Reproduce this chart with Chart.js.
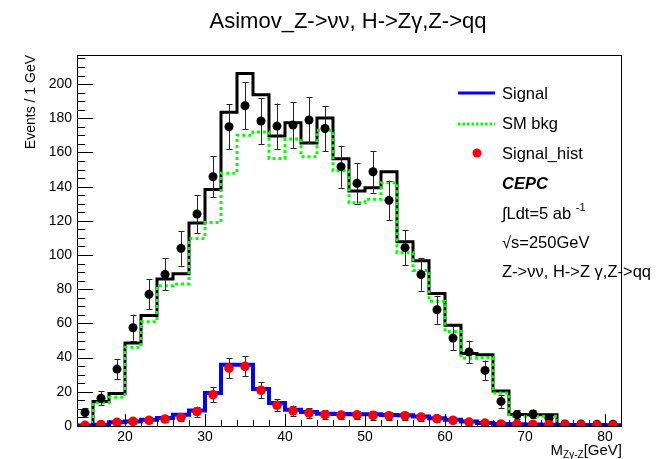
<!DOCTYPE html>
<html>
<head>
<meta charset="utf-8">
<script src="https://cdn.jsdelivr.net/npm/chart.js@4/dist/chart.umd.min.js"></script>
<style>
  body { margin: 0; background: #fff; }
  #wrap { width: 658px; height: 459px; }
</style>
</head>
<body>
<div id="wrap"><canvas id="plot" width="658" height="459"></canvas></div>
<script>
const FONT = '"Liberation Sans", Arial, Helvetica, sans-serif';
const BIN_WIDTH = 2;

// bin centres, M(Zγ-Z) in GeV
const massBins = [15, 17, 19, 21, 23, 25, 27, 29, 31, 33, 35, 37, 39, 41, 43, 45, 47,
  49, 51, 53, 55, 57, 59, 61, 63, 65, 67, 69, 71, 73, 75, 77, 79, 81];

// stacked histograms (events per bin)
const signalHist = [0.3, 0.8, 2.2, 2.7, 3.7, 4.7, 6.6, 9.1, 19.3, 35.8, 35.8, 21.6, 13.4, 9.5, 8.2, 7.2, 7.0,
  6.9, 6.8, 6.4, 6.3, 5.6, 4.6, 3.7, 2.7, 1.7, 1.1, 1.0, 0.9, 0.8, 0.6, 0.5, 0.4, 0.3];
const bkgHist = [0, 13.6, 16.8, 46, 61, 82, 83, 109.7, 119, 147.8, 170, 172, 156.5, 167.8, 157.5, 173, 149.3,
  130.6, 132.6, 142.3, 101.4, 91, 73, 55.3, 39.7, 40, 19.3, 5.7, 5.7, 5.7, 0.3, 0.3, 0.3, 0.3];
const totalHist = [0.3, 14.4, 19, 48.6, 64.6, 86, 89, 118.7, 138.3, 183.5, 206.2, 193.8, 169.6, 177.3, 165.6, 180.2, 156.3,
  137.5, 139.4, 148.7, 107.7, 96.6, 77.5, 59, 42.4, 41.7, 20.4, 6.7, 6.6, 6.6, 0.9, 0.8, 0.7, 0.6];

// asimov pseudo-data and signal-only points with their errors
const asimovData = [7.8, 16.2, 33.3, 57.5, 77, 88.7, 103.9, 124, 145.8, 175, 187.3, 178.4, 175.4, 176, 179, 174, 151.7,
  142, 148.7, 132, 104.3, 88.6, 68, 51.4, 43.3, 32.5, 14.4, 6.6, 7, 4.5, 1.2, 1.1, 1.0, 1.0];
const asimovErr = [2.8, 4.0, 5.8, 7.6, 8.8, 9.4, 10.2, 11.1, 12.1, 13.2, 13.7, 13.4, 13.2, 13.3, 13.4, 13.2, 12.3,
  11.9, 12.2, 11.5, 10.2, 9.4, 8.2, 7.2, 6.6, 5.7, 3.8, 2.6, 2.6, 2.1, 1.1, 1.0, 1.0, 1.0];
const signalPoints = [0.4, 0.8, 2.1, 2.7, 3.3, 4.1, 5.0, 8.4, 18.3, 33.9, 34.9, 20.9, 12.1, 8.9, 7.6, 6.6, 6.4,
  6.5, 6.2, 6.0, 6.0, 5.2, 4.3, 3.3, 2.3, 1.7, 1.2, 1.1, 1.0, 0.9, 0.7, 0.6, 0.5, 0.4];
const signalErr = [0.6, 0.9, 1.4, 1.6, 1.8, 2.0, 2.2, 2.9, 4.3, 5.8, 5.9, 4.6, 3.5, 3.0, 2.8, 2.6, 2.5,
  2.5, 2.5, 2.4, 2.4, 2.3, 2.1, 1.8, 1.5, 1.3, 1.1, 1.0, 1.0, 0.9, 0.8, 0.8, 0.7, 0.6];

const xTicks = [20, 30, 40, 50, 60, 70, 80];
const yTicks = [0, 20, 40, 60, 80, 100, 120, 140, 160, 180, 200];
const X_MIN = 14, X_MAX = 82, Y_MAX = 217;

// step outline: one point per lower bin edge plus the closing upper edge
function histPoints(values) {
  const pts = massBins.map((c, i) => ({ x: c - BIN_WIDTH / 2, y: values[i] }));
  pts.push({ x: massBins[massBins.length - 1] + BIN_WIDTH / 2, y: values[values.length - 1] });
  return pts;
}

function markerPoints(values) {
  return massBins.map((c, i) => ({ x: c, y: values[i] }));
}

function histSet(values, color, width, dash, order) {
  return {
    type: 'line',
    data: histPoints(values),
    borderColor: color,
    borderWidth: width,
    borderDash: dash,
    borderCapStyle: 'butt',
    borderJoinStyle: 'miter',
    stepped: 'before',
    pointRadius: 0,
    fill: false,
    order: order,
  };
}

function pointSet(values, errors, color, radius, order) {
  return {
    type: 'scatter',
    data: markerPoints(values),
    errors: errors,
    backgroundColor: color,
    borderColor: color,
    borderWidth: 0,
    pointRadius: radius,
    pointHoverRadius: radius,
    order: order,
  };
}

// ROOT-style frame with inward ticks
const framePlugin = {
  id: 'frame',
  beforeDatasetDraw(chart, args) {
    const ds = chart.data.datasets[args.index];
    if (!ds.errors) return;
    const { ctx } = chart;
    const xs = chart.scales.x, ys = chart.scales.y;
    ctx.save();
    ctx.strokeStyle = '#222';
    ctx.lineWidth = 1;
    ctx.beginPath();
    ds.data.forEach((p, i) => {
      const px = Math.round(xs.getPixelForValue(p.x)) + 0.5;
      const lo = ys.getPixelForValue(Math.max(0, p.y - ds.errors[i]));
      const hi = ys.getPixelForValue(p.y + ds.errors[i]);
      ctx.moveTo(px, lo); ctx.lineTo(px, hi);
      ctx.moveTo(px - 3, Math.round(lo) + 0.5); ctx.lineTo(px + 3, Math.round(lo) + 0.5);
      ctx.moveTo(px - 3, Math.round(hi) + 0.5); ctx.lineTo(px + 3, Math.round(hi) + 0.5);
    });
    ctx.stroke();
    ctx.restore();
  },
  afterDatasetsDraw(chart) {
    const { ctx, chartArea: a } = chart;
    const xs = chart.scales.x, ys = chart.scales.y;
    ctx.save();
    ctx.strokeStyle = '#000';
    ctx.lineWidth = 1;
    ctx.beginPath();
    for (let v = 0; v <= Y_MAX; v += 5) {
      const py = Math.round(ys.getPixelForValue(v)) + 0.5;
      const len = v % 20 === 0 ? 16 : 8;
      ctx.moveTo(a.left, py); ctx.lineTo(a.left + len, py);
    }
    for (let v = 16; v < X_MAX; v += 2) {
      const px = Math.round(xs.getPixelForValue(v)) + 0.5;
      const len = v % 10 === 0 ? 12 : 6;
      ctx.moveTo(px, a.bottom); ctx.lineTo(px, a.bottom - len);
    }
    ctx.stroke();
    ctx.strokeRect(Math.round(a.left) + 0.5, Math.round(a.top) + 0.5,
      Math.round(a.right - a.left), Math.round(a.bottom - a.top));
    ctx.restore();
  },
  afterDraw(chart) {
    const { ctx, chartArea: a } = chart;
    ctx.save();
    ctx.fillStyle = '#000';

    // title
    ctx.font = '22px ' + FONT;
    ctx.textAlign = 'center';
    ctx.textBaseline = 'alphabetic';
    ctx.fillText('Asimov_Z->νν, H->Zγ,Z->qq', 348, 28);

    // y axis title
    ctx.save();
    ctx.translate(35, a.top);
    ctx.rotate(-Math.PI / 2);
    ctx.font = '14px ' + FONT;
    ctx.textAlign = 'right';
    ctx.fillText('Events / 1 GeV', 0, 0);
    ctx.restore();

    // x axis title with subscript, right aligned to the frame
    ctx.textAlign = 'left';
    ctx.font = '15px ' + FONT;
    const wM = ctx.measureText('M').width;
    const wG = ctx.measureText('[GeV]').width;
    ctx.font = '10px ' + FONT;
    const wS = ctx.measureText('Zγ-Z').width;
    let x0 = a.right + 1 - wM - wS - wG;
    ctx.font = '15px ' + FONT;
    ctx.fillText('M', x0, 455);
    ctx.font = '10px ' + FONT;
    ctx.fillText('Zγ-Z', x0 + wM, 458);
    ctx.font = '15px ' + FONT;
    ctx.fillText('[GeV]', x0 + wM + wS, 455);

    // legend
    const tx = 502;
    ctx.textBaseline = 'middle';
    ctx.font = '16.5px ' + FONT;
    ctx.lineWidth = 3;
    ctx.strokeStyle = '#0000ff';
    ctx.beginPath(); ctx.moveTo(458, 93); ctx.lineTo(495, 93); ctx.stroke();
    ctx.fillText('Signal', tx, 94);
    ctx.strokeStyle = '#00ff00';
    ctx.setLineDash([2.5, 2]);
    ctx.beginPath(); ctx.moveTo(458, 124); ctx.lineTo(495, 124); ctx.stroke();
    ctx.setLineDash([]);
    ctx.fillText('SM bkg', tx, 124);
    ctx.fillStyle = '#ff0000';
    ctx.beginPath(); ctx.arc(477, 153, 4.5, 0, Math.PI * 2); ctx.fill();
    ctx.fillStyle = '#000';
    ctx.fillText('Signal_hist', tx, 154);
    ctx.font = 'italic bold 16.5px ' + FONT;
    ctx.fillText('CEPC', tx, 184);
    ctx.font = '16.5px ' + FONT;
    ctx.fillText('∫Ldt=5 ab', tx, 214);
    const wL = ctx.measureText('∫Ldt=5 ab ').width;
    ctx.font = '11px ' + FONT;
    ctx.fillText('-1', tx + wL, 208);
    ctx.font = '16.5px ' + FONT;
    ctx.fillText('√s=250GeV', tx, 243);
    ctx.fillText('Z->νν, H->Z γ,Z->qq', tx, 272);
    ctx.restore();
  },
};

new Chart(document.getElementById('plot'), {
  data: {
    datasets: [
      histSet(totalHist, '#000000', 3, [], 6),
      histSet(bkgHist, '#00ff00', 3, [3, 3], 5),
      histSet(signalHist, '#0000ff', 4, [], 4),
      pointSet(asimovData, asimovErr, '#000000', 4.5, 3),
      pointSet(signalPoints, signalErr, '#ff0000', 4.8, 2),
    ],
  },
  options: {
    responsive: false,
    animation: false,
    events: [],
    layout: { padding: { top: 55, right: 37, left: 0, bottom: 0 } },
    plugins: { legend: { display: false }, title: { display: false }, tooltip: { enabled: false } },
    scales: {
      x: {
        type: 'linear',
        min: X_MIN,
        max: X_MAX,
        afterFit: s => { s.height = 33; },
        afterBuildTicks: s => { s.ticks = xTicks.map(v => ({ value: v })); },
        grid: { display: false, drawTicks: false },
        border: { display: false },
        ticks: { color: '#000', font: { family: FONT, size: 14 }, padding: 3, maxRotation: 0 },
      },
      y: {
        type: 'linear',
        min: 0,
        max: Y_MAX,
        afterFit: s => { s.width = 77; },
        afterBuildTicks: s => { s.ticks = yTicks.map(v => ({ value: v })); },
        grid: { display: false, drawTicks: false },
        border: { display: false },
        ticks: { color: '#000', font: { family: FONT, size: 14 }, padding: 5 },
      },
    },
  },
  plugins: [framePlugin],
});
</script>
</body>
</html>
